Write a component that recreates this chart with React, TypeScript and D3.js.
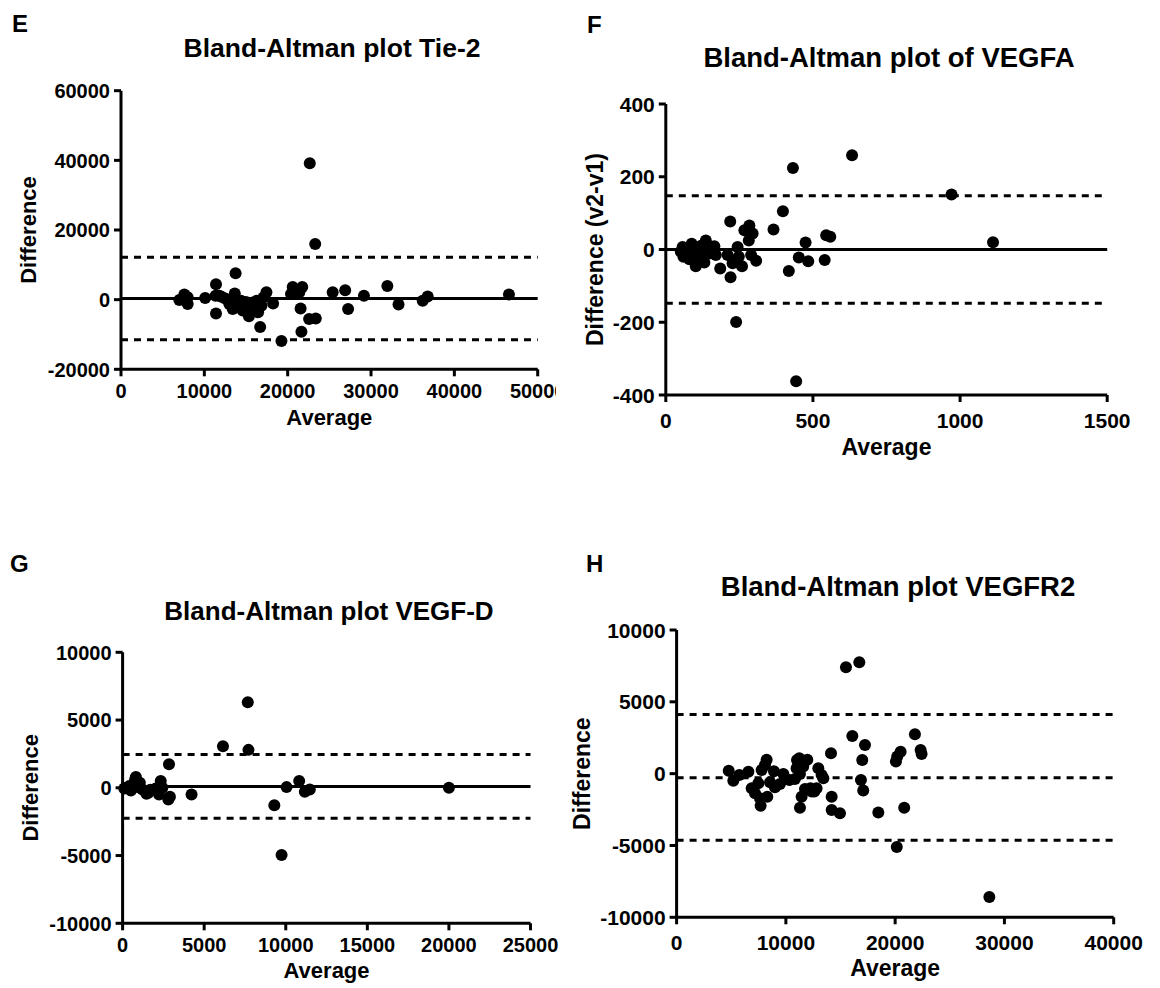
import React from 'react';
import * as d3 from 'd3';

const FONT = "'Liberation Sans', Arial, Helvetica, sans-serif";

// ---------- Panel E: Tie-2 ----------
const tie2Points: [number, number][] = [
  [22650, 39200], [23300, 16000], [13750, 7600], [11400, 4450], [11400, -3950],
  [31960, 3950], [26900, 2700], [25400, 2100], [29150, 1150], [46550, 1450],
  [36800, 900], [36200, -300], [33300, -1400], [27250, -2700], [21550, -2550],
  [22570, -5580], [23370, -5400], [21650, -9200], [19250, -11850], [16700, -7850],
  [15350, -4750], [20600, 3600], [21750, 3600], [21400, 2100], [20400, 1600],
  [7600, 1450], [8000, 700], [7000, -100], [8000, -1250], [10100, 500],
  [11350, 1150], [12050, 850], [13650, 1800], [13850, -100], [13400, -2700],
  [14400, -1750], [15000, -650], [15800, -800], [16450, -3650], [16850, -1750],
  [17450, 2100], [17100, 650], [18250, -1100], [14400, -300], [13000, -1250],
  [11800, 1150], [15400, -2200], [14600, -3150], [12500, 300], [16300, -300],
];
const tie2Lines = [350, 12200, -11550];
const tie2XTicks = [0, 10000, 20000, 30000, 40000, 50000];
const tie2YTicks = [-20000, 0, 20000, 40000, 60000];

// ---------- Panel F: VEGFA ----------
const vegfaPoints: [number, number][] = [
  [633, 259], [432, 224], [971, 151], [1112, 20], [398, 105], [366, 55],
  [219, 77], [284, 66], [267, 53], [295, 44], [282, 25], [244, 7],
  [545, 39], [559, 35], [475, 19], [452, -22], [484, -32], [540, -29],
  [418, -59], [220, -76], [239, -199], [443, -362], [185, -52], [259, -46],
  [307, -31], [290, -15], [210, -15], [227, -38], [248, -20], [57, 7],
  [68, -15], [80, -27], [88, 16], [102, -46], [97, -6], [114, 3],
  [131, -36], [136, 25], [148, -11], [165, 9], [170, -15], [123, -15],
  [74, 3], [108, -25], [153, 7], [51, -6], [91, -20], [60, -20], [120, 10],
];
const vegfaLines = [0, 148, -148];
const vegfaXTicks = [0, 500, 1000, 1500];
const vegfaYTicks = [-400, -200, 0, 200, 400];

// ---------- Panel G: VEGF-D ----------
const vegfdPoints: [number, number][] = [
  [7673, 6316], [6151, 3071], [7714, 2799], [2844, 1734], [4226, -495],
  [9299, -1288], [9744, -4954], [10049, 50], [10822, 495], [11169, -297],
  [11473, -124], [20000, 0], [2803, -867], [2337, 495], [2235, -495],
  [2438, 0], [2032, -50], [103, -50], [508, -198], [771, 619],
  [1056, 372], [1218, -124], [1462, -446], [1583, -372], [406, 124],
  [913, 50], [1700, -150], [250, 0], [815, 800], [2900, -660],
];
const vegfdLines = [100, 2450, -2250];
const vegfdXTicks = [0, 5000, 10000, 15000, 20000, 25000];
const vegfdYTicks = [-10000, -5000, 0, 5000, 10000];

// ---------- Panel H: VEGFR2 ----------
const vegfr2Points: [number, number][] = [
  [15500, 7400], [16720, 7750], [28620, -8590], [20150, -5100], [16080, 2620],
  [21810, 2740], [17240, 2000], [22330, 1650], [22420, 1370], [20500, 1530],
  [20190, 1190], [20070, 840], [16990, 950], [14130, 1420], [16870, -440],
  [17080, -1180], [18460, -2710], [20830, -2370], [14190, -1600], [14190, -2530],
  [14950, -2760], [11290, -2370], [7690, -2230], [4770, 210], [5190, -490],
  [6570, 140], [5740, -90], [8240, 960], [8090, 610], [7780, 260],
  [8910, 160], [6870, -1020], [7180, -1370], [8300, -1600], [7630, -1710],
  [7480, -670], [9770, -20], [9460, -720], [9000, -950], [8550, -600],
  [11230, 1070], [11960, 960], [10980, 380], [11590, 490], [12970, 380],
  [13270, -90], [13430, -320], [11290, -20], [10830, -370], [11750, -1070],
  [11440, -1600], [12360, -1250], [12810, -1020], [10320, -440], [11020, 950],
  [12250, -1020], [12600, -1250],
];
const vegfr2Lines = [-280, 4110, -4640];
const vegfr2XTicks = [0, 10000, 20000, 30000, 40000];
const vegfr2YTicks = [-10000, -5000, 0, 5000, 10000];

type Layout = {
  letter: string; letterX: number; letterY: number;
  title: string; titleX: number; titleY: number; titleSize: number;
  yLabel: string; tickSize: number; axisSize: number;
  left: number; right: number; top: number; bottom: number;
  xLabelGap: number; avgGap: number; yLabelOff: number;
  meanDashed: boolean; clipRight?: number;
};

function Panel({ layout, points, lines, xTicks, yTicks }: {
  layout: Layout; points: [number, number][]; lines: number[]; xTicks: number[]; yTicks: number[];
}) {
  const L = layout;
  const x = d3.scaleLinear().domain([xTicks[0], xTicks[xTicks.length - 1]]).range([L.left, L.right]);
  const y = d3.scaleLinear().domain([yTicks[0], yTicks[yTicks.length - 1]]).range([L.bottom, L.top]);
  const clipId = 'clip-' + L.letter;
  const [mean, upper, lower] = lines;
  const dash = '7,6';
  return (
    <g clipPath={L.clipRight ? `url(#${clipId})` : undefined}>
      {L.clipRight && (
        <defs>
          <clipPath id={clipId}>
            <rect x={0} y={0} width={L.clipRight} height={988} />
          </clipPath>
        </defs>
      )}
      <text x={L.letterX} y={L.letterY} fontFamily={FONT} fontWeight="bold" fontSize={24}>{L.letter}</text>
      <text x={L.titleX} y={L.titleY} textAnchor="middle" fontFamily={FONT} fontWeight="bold" fontSize={L.titleSize}>{L.title}</text>
      {[upper, lower].map((v, i) => (
        <line key={'d' + i} x1={L.left} x2={L.right} y1={y(v)} y2={y(v)} stroke="#000" strokeWidth={3} strokeDasharray={dash} />
      ))}
      <line x1={L.left} x2={L.right} y1={y(mean)} y2={y(mean)} stroke="#000" strokeWidth={3}
        strokeDasharray={L.meanDashed ? dash : undefined} />
      {points.map((p, i) => (
        <circle key={i} cx={x(p[0])} cy={y(p[1])} r={6} fill="#000" />
      ))}
      <line x1={L.left} x2={L.left} y1={L.top} y2={L.bottom} stroke="#000" strokeWidth={3} />
      <line x1={L.left} x2={L.right} y1={L.bottom} y2={L.bottom} stroke="#000" strokeWidth={3} />
      {yTicks.map((t) => (
        <g key={'y' + t}>
          <line x1={L.left - 7} x2={L.left} y1={y(t)} y2={y(t)} stroke="#000" strokeWidth={3} />
          <text x={L.left - 11} y={y(t)} dy="0.36em" textAnchor="end" fontFamily={FONT} fontWeight="bold" fontSize={L.tickSize}>{t}</text>
        </g>
      ))}
      {xTicks.map((t) => (
        <g key={'x' + t}>
          <line x1={x(t)} x2={x(t)} y1={L.bottom} y2={L.bottom + 7} stroke="#000" strokeWidth={3} />
          <text x={x(t)} y={L.bottom + L.xLabelGap} textAnchor="middle" fontFamily={FONT} fontWeight="bold" fontSize={L.tickSize}>{t}</text>
        </g>
      ))}
      <text x={(L.left + L.right) / 2} y={L.bottom + L.avgGap} textAnchor="middle" fontFamily={FONT} fontWeight="bold" fontSize={L.axisSize}>Average</text>
      <text transform={`translate(${L.left - L.yLabelOff},${(L.top + L.bottom) / 2}) rotate(-90)`} textAnchor="middle" dy="0.36em"
        fontFamily={FONT} fontWeight="bold" fontSize={L.axisSize}>{L.yLabel}</text>
    </g>
  );
}

const layoutE: Layout = {
  letter: 'E', letterX: 12, letterY: 32, title: 'Bland-Altman plot Tie-2', titleX: 332, titleY: 57, titleSize: 26.5,
  yLabel: 'Difference', tickSize: 20, axisSize: 22,
  left: 121, right: 537.7, top: 90.7, bottom: 369.3,
  xLabelGap: 29, avgGap: 56, yLabelOff: 93, meanDashed: false, clipRight: 556,
};
const layoutF: Layout = {
  letter: 'F', letterX: 587, letterY: 33, title: 'Bland-Altman plot of VEGFA', titleX: 889, titleY: 67, titleSize: 27.5,
  yLabel: 'Difference (v2-v1)', tickSize: 21, axisSize: 23,
  left: 665.8, right: 1107.2, top: 104, bottom: 395,
  xLabelGap: 33, avgGap: 60, yLabelOff: 71, meanDashed: false,
};
const layoutG: Layout = {
  letter: 'G', letterX: 10, letterY: 572, title: 'Bland-Altman plot VEGF-D', titleX: 329, titleY: 620, titleSize: 26,
  yLabel: 'Difference', tickSize: 20, axisSize: 22,
  left: 122.6, right: 530.5, top: 652.3, bottom: 923.3,
  xLabelGap: 29, avgGap: 55, yLabelOff: 93, meanDashed: false,
};
const layoutH: Layout = {
  letter: 'H', letterX: 586, letterY: 572, title: 'Bland-Altman plot VEGFR2', titleX: 898, titleY: 596, titleSize: 27.5,
  yLabel: 'Difference', tickSize: 21, axisSize: 23,
  left: 676.6, right: 1113.7, top: 630, bottom: 917.3,
  xLabelGap: 33, avgGap: 59, yLabelOff: 95, meanDashed: true,
};

export default function App() {
  return (
    <svg width={1160} height={988} style={{ position: 'absolute', left: 0, top: 0, background: '#fff' }}>
      <rect x={0} y={0} width={1160} height={988} fill="#fff" />
      <Panel layout={layoutE} points={tie2Points} lines={tie2Lines} xTicks={tie2XTicks} yTicks={tie2YTicks} />
      <Panel layout={layoutF} points={vegfaPoints} lines={vegfaLines} xTicks={vegfaXTicks} yTicks={vegfaYTicks} />
      <Panel layout={layoutG} points={vegfdPoints} lines={vegfdLines} xTicks={vegfdXTicks} yTicks={vegfdYTicks} />
      <Panel layout={layoutH} points={vegfr2Points} lines={vegfr2Lines} xTicks={vegfr2XTicks} yTicks={vegfr2YTicks} />
    </svg>
  );
}
